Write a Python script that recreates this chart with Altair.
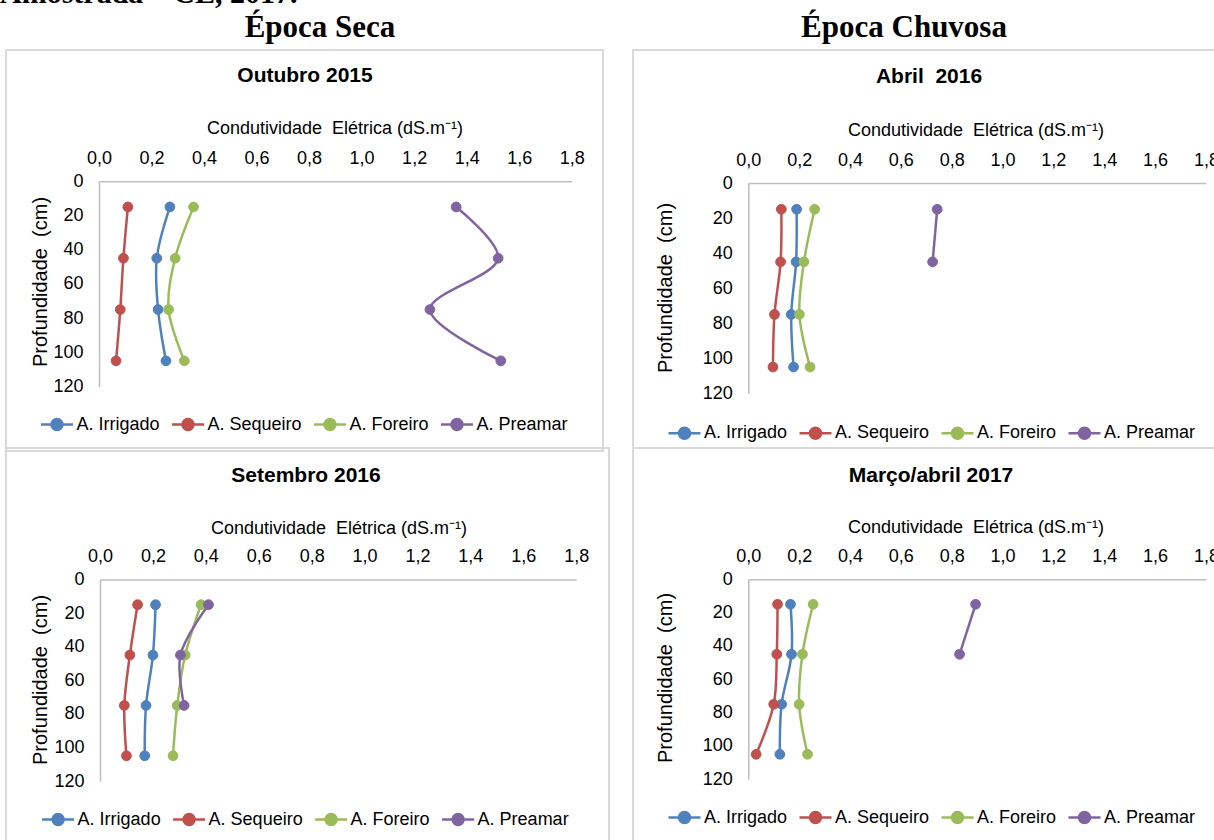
import altair as alt
import pandas as pd

# ---------------- data ----------------
depths = [15, 45, 75, 105]
series = ["A. Irrigado", "A. Sequeiro", "A. Foreiro", "A. Preamar"]
series_colors = ["#4F81BD", "#C0504D", "#9BBB59", "#8064A2"]
x_ticks = [0.0, 0.2, 0.4, 0.6, 0.8, 1.0, 1.2, 1.4, 1.6, 1.8]
y_ticks = [0, 20, 40, 60, 80, 100, 120]

# Outubro 2015
out15_irrigado = [0.27, 0.22, 0.225, 0.255]
out15_sequeiro = [0.11, 0.093, 0.081, 0.065]
out15_foreiro = [0.36, 0.29, 0.265, 0.325]
out15_preamar = [1.36, 1.52, 1.26, 1.53]
# Abril 2016
abr16_irrigado = [0.19, 0.188, 0.169, 0.178]
abr16_sequeiro = [0.13, 0.127, 0.103, 0.097]
abr16_foreiro = [0.261, 0.219, 0.201, 0.243]
abr16_preamar = [0.743, 0.725, None, None]
# Setembro 2016
set16_irrigado = [0.21, 0.20, 0.174, 0.169]
set16_sequeiro = [0.142, 0.113, 0.092, 0.10]
set16_foreiro = [0.382, 0.322, 0.292, 0.276]
set16_preamar = [0.41, 0.304, 0.318, None]
# Março/abril 2017
mar17_irrigado = [0.166, 0.170, 0.131, 0.124]
mar17_sequeiro = [0.115, 0.112, 0.100, 0.031]
mar17_foreiro = [0.255, 0.213, 0.200, 0.233]
mar17_preamar = [0.894, 0.831, None, None]

panel_titles = ["Outubro 2015", "Abril\u00a0 2016", "Setembro 2016", "Março/abril 2017"]
season_titles = ["Época Seca", "Época Chuvosa"]
x_title = "Condutividade\u00a0 Elétrica (dS.m⁻¹)"
y_title = "Profundidade\u00a0 (cm)"
header_text = "Amostrada – CE, 2017."

FONT = "Liberation Sans"
SERIF = "Liberation Serif"


def make_df(lists):
    rows = []
    for name, vals in zip(series, lists):
        for d, v in zip(depths, vals):
            if v is not None:
                rows.append({"serie": name, "depth": d, "ce": v})
    return pd.DataFrame(rows)


panel_data = [
    make_df([out15_irrigado, out15_sequeiro, out15_foreiro, out15_preamar]),
    make_df([abr16_irrigado, abr16_sequeiro, abr16_foreiro, abr16_preamar]),
    make_df([set16_irrigado, set16_sequeiro, set16_foreiro, set16_preamar]),
    make_df([mar17_irrigado, mar17_sequeiro, mar17_foreiro, mar17_preamar]),
]

# ---------------- layout (pixels) ----------------
layouts = [
    dict(x0=99, x1=571.7, y0=181.3, y1=386.5, lx=45.5, ly=413, tx=305, ty=76, ax=335, ay=129, yx=41, yy=282,
         box=(6, 603, 50, 451)),
    dict(x0=748.3, x1=1205.9, y0=183, y1=393.3, lx=673, ly=421.7, tx=929, ty=77, ax=976, ay=131, yx=666, yy=288,
         box=(633, 1240, 50, 448)),
    dict(x0=100, x1=576.2, y0=579.5, y1=781, lx=46.6, ly=808, tx=306, ty=476, ax=339, ay=529, yx=41, yy=680,
         box=(6, 609, 448, 860)),
    dict(x0=748.3, x1=1205.9, y0=579.3, y1=779.3, lx=673, ly=806, tx=931, ty=476, ax=976, ay=528, yx=666, yy=678,
         box=(633, 1240, 448, 860)),
]

LEGEND_PATH = "M-1.6,0H1.6M0.55,0A0.55,0.55,0,1,1,-0.55,0A0.55,0.55,0,1,1,0.55,0Z"

one_row = alt.Data(values=[{"a": 1}])


def text_layer(txt, x, y, size, weight="normal", font=FONT, angle=0, align="center", baseline="middle"):
    kw = dict(font=font, fontSize=size, fontWeight=weight, align=align, baseline=baseline, color="#000000")
    if angle:
        kw["angle"] = angle
    return alt.Chart(pd.DataFrame({"t": [txt]})).mark_text(**kw).encode(
        x=alt.value(x), y=alt.value(y), text="t:N"
    )


def box_layer(b):
    return alt.Chart(one_row).mark_rect(fill="transparent", stroke="#D9D9D9", strokeWidth=2).encode(
        x=alt.value(b[0]), x2=alt.value(b[1]), y=alt.value(b[2]), y2=alt.value(b[3])
    )


def panel(df, lay):
    xs = alt.Scale(domain=[0, 1.8], range=[lay["x0"], lay["x1"]], nice=False, zero=False)
    ys = alt.Scale(domain=[0, 120], range=[lay["y0"], lay["y1"]], nice=False, zero=False)
    common_axis = dict(title=None, ticks=False, tickSize=0, grid=False, domainColor="#BFBFBF", domainWidth=1.5,
                       labelFont=FONT, labelFontSize=18, labelColor="#000000", labelFlush=False,
                       labelOverlap=False, labelBound=False)
    xenc = alt.X("ce:Q", scale=xs, axis=alt.Axis(orient="top", offset=-lay["y0"], values=x_ticks,
                                                  labelExpr="replace(format(datum.value, '.1f'), '.', ',')",
                                                  labelPadding=14, **common_axis))
    yenc = alt.Y("depth:Q", scale=ys, axis=alt.Axis(orient="left", offset=-lay["x0"], values=y_ticks,
                                                     labelPadding=16, **common_axis))
    cscale = alt.Scale(domain=series, range=series_colors)
    leg = alt.Legend(orient="none", legendX=lay["lx"], legendY=lay["ly"], direction="horizontal", columns=4,
                     title=None, symbolType=LEGEND_PATH, symbolSize=400, symbolStrokeWidth=2.5,
                     labelOffset=8, columnPadding=6, labelFont=FONT, labelFontSize=18,
                     labelColor="#000000", padding=0)
    base = alt.Chart(df)
    line = base.mark_line(strokeWidth=2.5, interpolate="catmull-rom").encode(
        x=xenc, y=yenc,
        color=alt.Color("serie:N", scale=cscale, legend=None),
        order=alt.Order("depth:Q"),
    )
    pts = base.mark_point(filled=True, size=95, opacity=1, strokeWidth=1).encode(
        x=xenc, y=yenc,
        fill=alt.Fill("serie:N", scale=cscale, legend=leg),
        stroke=alt.Stroke("serie:N", scale=cscale, legend=leg),
    )
    return alt.layer(line, pts)


layers = []
for lay in layouts:
    layers.append(box_layer(lay["box"]))

layers.append(text_layer(header_text, 0, 3, 30, weight="bold", font=SERIF, align="left", baseline="alphabetic"))
layers.append(text_layer(season_titles[0], 320, 28, 31, weight="bold", font=SERIF))
layers.append(text_layer(season_titles[1], 904, 28, 31, weight="bold", font=SERIF))

for i, lay in enumerate(layouts):
    layers.append(text_layer(panel_titles[i], lay["tx"], lay["ty"], 21, weight="bold"))
    layers.append(text_layer(x_title, lay["ax"], lay["ay"], 18))
    layers.append(text_layer(y_title, lay["yx"], lay["yy"], 20, angle=270))

for df, lay in zip(panel_data, layouts):
    layers.append(panel(df, lay))

chart = alt.layer(*layers).resolve_scale(
    x="independent", y="independent", fill="independent", stroke="independent"
).properties(
    width=1214, height=840, autosize=alt.AutoSizeParams(type="none"), padding=0, background="#FFFFFF"
).configure_view(strokeWidth=0)

chart.save("out.html", embed_options={"renderer": "svg", "actions": False})
